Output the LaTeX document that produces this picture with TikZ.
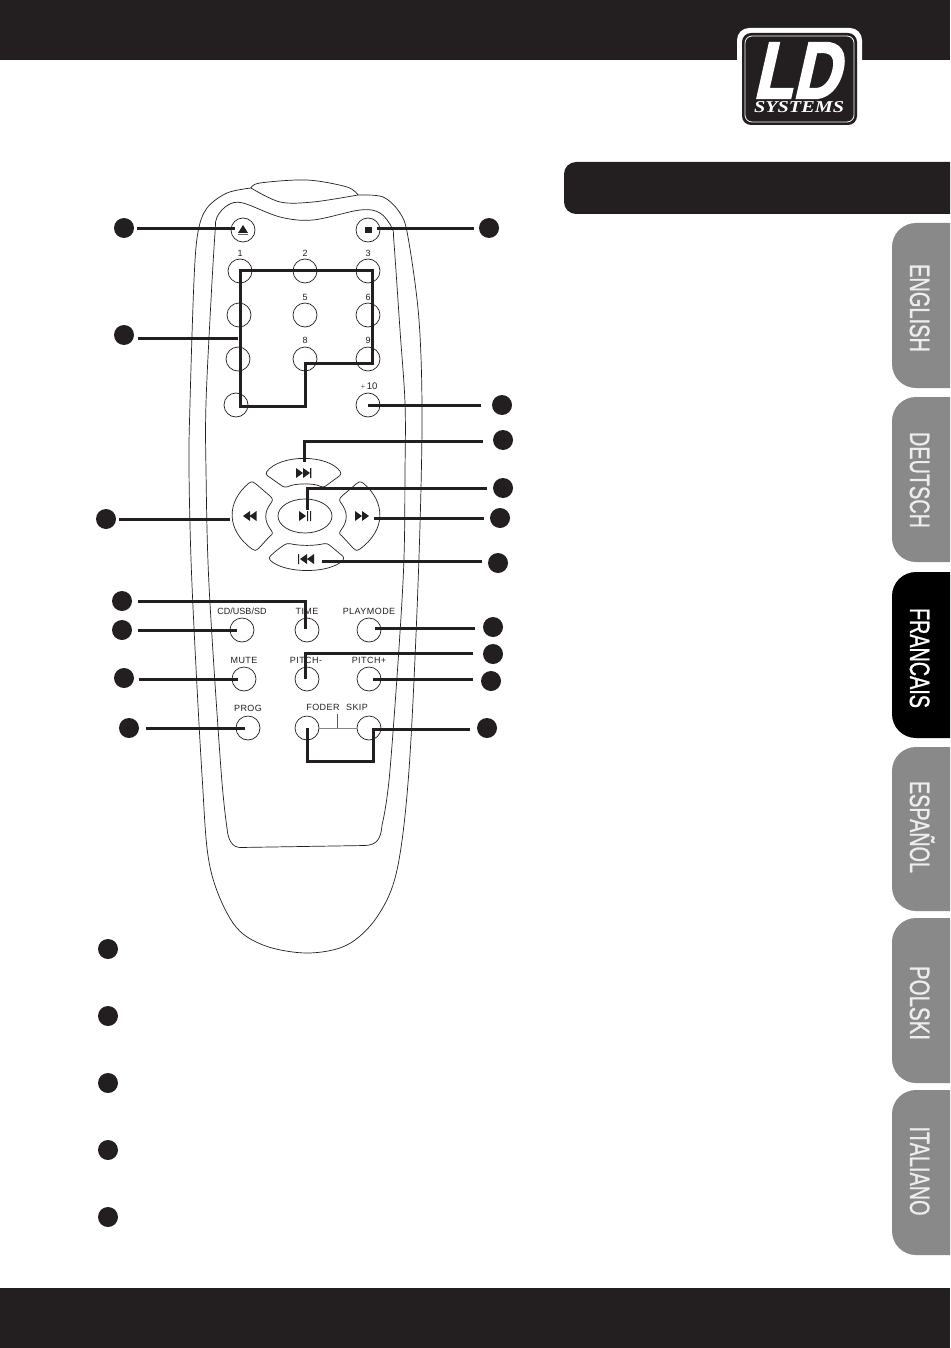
\documentclass[tikz,border=0pt]{standalone}
\usepackage{fontspec}
\setmainfont{Liberation Sans}
\newfontfamily\spaced[LetterSpace=5]{Liberation Sans}
\newfontfamily\serifbi{Liberation Serif}
\newfontfamily\logofont[FakeSlant=.28,FakeBold=3]{Liberation Sans}
\newfontfamily\tabfont[FakeBold=1.2]{Liberation Sans}
\usetikzlibrary{calc,shapes.geometric}
\definecolor{ink}{HTML}{231F20}
\definecolor{tabgray}{HTML}{8A898A}
\definecolor{tabtext}{HTML}{EDEDED}
\newcommand{\tabtxt}[2]{\resizebox{#1pt}{\height}{\fontsize{28}{28}\tabfont\selectfont #2}}
\tikzset{
  btn/.style={circle,draw=ink,line width=.7pt,minimum size=24pt,inner sep=0pt},
  dot/.style={circle,fill=ink,minimum size=20pt,inner sep=0pt},
  leader/.style={line width=3pt,draw=ink,line cap=butt,line join=miter},
  body/.style={draw=ink,line width=.7pt},
  key/.style={draw=ink,line width=.7pt,rounded corners=3pt},
  softkey/.style={draw=ink,line width=.7pt},
  glyph/.style={fill=ink},
  lbl/.style={font=\fontsize{9}{10}\selectfont\spaced,text=ink,inner sep=0pt},
  tablbl/.style={rotate=-90,anchor=base,inner sep=0pt,text=tabtext}
}
\begin{document}
\begin{tikzpicture}[x=1pt,y=-1pt]
\useasboundingbox (0,0) rectangle (950,1348);
\fill[white] (0,0) rectangle (950,1348);
% bands
\fill[ink] (0,0) rectangle (950,60);
\fill[ink] (0,1288) rectangle (950,1348);
\begin{scope}
\clip (0,0) rectangle (950,1348);
\fill[ink,rounded corners=12pt] (564,162) -- (564,214) -- (980,214) -- (980,162) -- cycle;
\foreach \a/\b/\c in {223/388/tabgray,397/562/tabgray,572/738/black,747/911/tabgray,918/1083/tabgray,1090/1255/tabgray}
  \fill[\c,rounded corners=24pt] (892,\a) -- (892,\b) -- (990,\b) -- (990,\a) -- cycle;
\end{scope}
\node[tablbl] (tabEN) at (910,308) {\tabtxt{88}{ENGLISH}};
\node[tablbl] (tabDE) at (910,480) {\tabtxt{96}{DEUTSCH}};
\node[tablbl,text=white] (tabFR) at (910,658) {\tabtxt{100}{FRANCAIS}};
\node[tablbl] (tabES) at (910,827) {\tabtxt{92}{ESPAÑOL}};
\node[tablbl] (tabPL) at (910,1003) {\tabtxt{74}{POLSKI}};
\node[tablbl] (tabIT) at (910,1171) {\tabtxt{89}{ITALIANO}};
% logo
\fill[white,rounded corners=12pt] (737,28) rectangle (862,127);
\fill[ink,rounded corners=9pt] (742,33) rectangle (857,125);
\draw[white,line width=.8pt,rounded corners=7pt] (745,36) rectangle (854,122);
\node[inner sep=0pt,text=white] (logoLD) at (796,70.5) {\resizebox{86pt}{55pt}{\logofont\bfseries LD}};
\node[inner sep=0pt,text=white] (logoSYS) at (799,107) {\resizebox{90pt}{11pt}{\fontsize{14}{14}\selectfont\serifbi\bfseries\itshape SYSTEMS}};
% remote body
\draw[body] plot[smooth,tension=.55] coordinates {(251,188)(227,193)(207,208)(198,232)(194,280)(190,403)(189,470)(192,585)(202,775)(210,867)(233,923)(263,945)(307,953)(347,945)(377,917)(397,870)(409,770)(418,585)(422,425)(419,320)(408,237)(400,213)(383,197)(358,195)};
\draw[body] plot[smooth,tension=.55] coordinates {(251,188)(260,183)(307,180)(347,187)(358,195)};
\draw[body] plot[smooth,tension=.55] coordinates {(251,188)(280,202)(313,202)(358,195)};
\draw[body] plot[smooth,tension=.55] coordinates {(227,828)(221,770)(209,585)(206,470)(206,403)(211,300)(215,233)(217,217)(228,205)(243,203)(280,217)(313,220)(360,210)(380,213)(392,228)(394,243)(400,330)(405,403)(405,470)(403,582)(390,770)(382,825)};
\draw[body] (382,825) .. controls (381,840) and (376,845) .. (365,845.5) -- (240,847.5) .. controls (232,847) and (228,840) .. (227,828);
% buttons
\node[btn] (bEject) at (243,230) {};
\node[btn] (bStop) at (368,230) {};
\node[btn] (b1) at (240,271) {};
\node[btn] (b2) at (305,271) {};
\node[btn] (b3) at (368,271) {};
\node[btn] (b4) at (239,315) {};
\node[btn] (b5) at (305,315) {};
\node[btn] (b6) at (368,315) {};
\node[btn] (b7) at (238,359) {};
\node[btn] (b8) at (305,359) {};
\node[btn] (b9) at (368,359) {};
\node[btn] (b0) at (236,405) {};
\node[btn] (bTen) at (368,405) {};
\node[btn] (bCD) at (242,630) {};
\node[btn] (bTime) at (307,630) {};
\node[btn] (bPlay) at (369,630) {};
\node[btn] (bMute) at (244,679) {};
\node[btn] (bPm) at (307,679) {};
\node[btn] (bPp) at (369,679) {};
\node[btn] (bProg) at (248,728) {};
\node[btn] (bFoder) at (307,728) {};
\node[btn] (bSkip) at (369,728) {};
% labels
\node[lbl] (t1) at (240,253) {1};
\node[lbl] (t2) at (305,253) {2};
\node[lbl] (t3) at (368,253) {3};
\node[lbl] (t5) at (305,297) {5};
\node[lbl] (t6) at (368,297) {6};
\node[lbl] (t8) at (305,340) {8};
\node[lbl] (t9) at (368,340) {9};
\node[lbl,font=\fontsize{9.5}{10}\selectfont\rmfamily] (t10) at (369,386) {{\color{ink!70}\fontsize{8}{9}\selectfont +}\,10};
\node[lbl,font=\fontsize{9}{10}\selectfont\rmfamily] (tCD) at (242,611) {CD/USB/SD};
\node[lbl] (tTime) at (307,611) {TIME};
\node[lbl] (tPlay) at (369,611) {PLAYMODE};
\node[lbl] (tMute) at (244,660) {MUTE};
\node[lbl] (tPm) at (306,660) {PITCH-};
\node[lbl] (tPp) at (369,660) {PITCH+};
\node[lbl] (tProg) at (248,708) {PROG};
\node[lbl] (tFoder) at (323,707) {FODER};
\node[lbl] (tSkip) at (357,707) {SKIP};
\draw[ink!55,line width=.8pt] (bFoder) -- (bSkip);
\coordinate (fsUp) at (337,714);
\draw[ink!75,line width=.7pt] (fsUp) -- (fsUp |- bFoder);
% direction pad
\node[draw=ink,line width=.7pt,ellipse,minimum width=54pt,minimum height=34pt,inner sep=0pt] (bCentre) at (305,516) {};
\draw[key] (265,474) .. controls (280,454) and (328,454) .. (342,474) -- (323,488) .. controls (315,483) and (295,483) .. (285,488) -- cycle;
\draw[softkey] (256,484) -- (270,496) .. controls (273,499) and (273,500) .. (271,503) .. controls (264,512) and (264,521) .. (271,530) .. controls (273,533) and (273,534) .. (270,536) -- (259,548) .. controls (256,551) and (254,551) .. (252,549) .. controls (226,530) and (226,502) .. (249,483) .. controls (252,481) and (254,482) .. (256,484) -- cycle;
\draw[softkey] (356,484) -- (342,496) .. controls (339,499) and (339,500) .. (341,503) .. controls (348,512) and (348,521) .. (341,530) .. controls (339,533) and (339,534) .. (342,536) -- (353,548) .. controls (356,551) and (358,551) .. (360,549) .. controls (386,530) and (386,502) .. (363,483) .. controls (360,481) and (358,482) .. (356,484) -- cycle;
\draw[key] (277,550) -- (287,543) .. controls (300,546) and (314,546) .. (327,543) -- (345,558) .. controls (330,574) and (284,574) .. (268,558) -- cycle;
% glyphs
\fill[glyph] (238,233) -- (243,225) -- (248,233) -- cycle;
\fill[ink!70] (238,233.8) rectangle (248,235.5);
\fill[glyph] (365,227) rectangle (372,233);
\fill[glyph] (296,468) -- (303,473) -- (296,478) -- cycle (303,468) -- (310,473) -- (303,478) -- cycle (310.2,468) rectangle (311.4,478);
\fill[glyph] (250,511) -- (243,516) -- (250,521) -- cycle (256.5,511) -- (249.5,516) -- (256.5,521) -- cycle;
\fill[glyph] (299,511) -- (306,516) -- (299,521) -- cycle (307,511) rectangle (308.2,521) (310,511) rectangle (311.2,521);
\fill[glyph] (355,511) -- (362,516) -- (355,521) -- cycle (362,511) -- (369,516) -- (362,521) -- cycle;
\fill[glyph] (298,554) rectangle (299.2,564) (307,554) -- (300,559) -- (307,564) -- cycle (314,554) -- (307,559) -- (314,564) -- cycle;
% callout dots
\node[dot] (dEject) at (124,228) {};
\node[dot] (dNum) at (124,335) {};
\node[dot] (dStop) at (489,228) {};
\node[dot] (dTen) at (502,405) {};
\node[dot] (dNext) at (503,440) {};
\node[dot] (dPlay) at (503,488) {};
\node[dot] (dFF) at (500,518) {};
\node[dot] (dPrev) at (498,563) {};
\node[dot] (dRew) at (106,519) {};
\node[dot] (dTime) at (122,601) {};
\node[dot] (dCD) at (122,630) {};
\node[dot] (dMute) at (124,678) {};
\node[dot] (dProg) at (129,728) {};
\node[dot] (dMode) at (493,627) {};
\node[dot] (dPm) at (493,654) {};
\node[dot] (dPp) at (491,681) {};
\node[dot] (dSkip) at (487,728) {};
\node[dot] (n1) at (108,949) {};
\node[dot] (n2) at (108,1016) {};
\node[dot] (n3) at (108,1083) {};
\node[dot] (n4) at (108,1150) {};
\node[dot] (n5) at (108,1217) {};
% leader ends
\coordinate (eEject) at (235,229);
\coordinate (eStop) at (377,229);
\coordinate (eNum) at (238,338);
\coordinate (eTen) at (368,405);
\coordinate (eNext) at (304,441);
\coordinate (eNextB) at (304,462);
\coordinate (ePlay) at (307,488);
\coordinate (ePlayB) at (307,510);
\coordinate (eFF) at (374,518);
\coordinate (ePrev) at (322,561);
\coordinate (eRew) at (230,519);
\coordinate (eTime) at (305,601);
\coordinate (eTimeB) at (305,629);
\coordinate (eCD) at (237,630);
\coordinate (eMute) at (238,679);
\coordinate (eProg) at (245,728);
\coordinate (eMode) at (375,628);
\coordinate (ePm) at (305,653);
\coordinate (ePmB) at (305,679);
\coordinate (ePp) at (373,679);
\coordinate (eSkip) at (373,729);
\coordinate (eSkipB) at (373,761);
\coordinate (eFoder) at (307,761);
\coordinate (eFoderB) at (307,728);
% numeric group frame
\coordinate (fA) at (240,270);
\coordinate (fB) at (372,270);
\coordinate (fC) at (372,363);
\coordinate (fD) at (305,363);
\coordinate (fE) at (305,406);
\coordinate (fF) at (240,406);
\draw[leader] (fA) -- (fB) -- (fC) -- (fD) -- (fE) -- (fF) -- cycle;
% leaders
\draw[leader,shorten <=3pt] (dEject.east |- eEject) -- (eEject);
\draw[leader,shorten <=5pt] (dStop.west |- eStop) -- (eStop);
\draw[leader,shorten <=4pt] (dNum.east |- eNum) -- (eNum);
\draw[leader,shorten <=11pt] (dTen.west |- eTen) -- (eTen);
\draw[leader,shorten <=10pt] (dNext.west |- eNext) -- (eNext) -- (eNextB);
\draw[leader,shorten <=6pt] (dPlay.west |- ePlay) -- (ePlay) -- (ePlayB);
\draw[leader,shorten <=6pt] (dFF.west |- eFF) -- (eFF);
\draw[leader,shorten <=6pt] (dPrev.west |- ePrev) -- (ePrev);
\draw[leader,shorten <=3pt] (dRew.east |- eRew) -- (eRew);
\draw[leader,shorten <=6pt] (dTime.east |- eTime) -- (eTime) -- (eTimeB);
\draw[leader,shorten <=6pt] (dCD.east |- eCD) -- (eCD);
\draw[leader,shorten <=5pt] (dMute.east |- eMute) -- (eMute);
\draw[leader,shorten <=7pt] (dProg.east |- eProg) -- (eProg);
\draw[leader,shorten <=8pt] (dMode.west |- eMode) -- (eMode);
\draw[leader,shorten <=10pt] (dPm.west |- ePm) -- (ePm) -- (ePmB);
\draw[leader,shorten <=8pt] (dPp.west |- ePp) -- (ePp);
\draw[leader,shorten <=7pt] (dSkip.west |- eSkip) -- (eSkip) -- (eSkipB) -- (eFoder) -- (eFoderB);
\end{tikzpicture}
\end{document}
